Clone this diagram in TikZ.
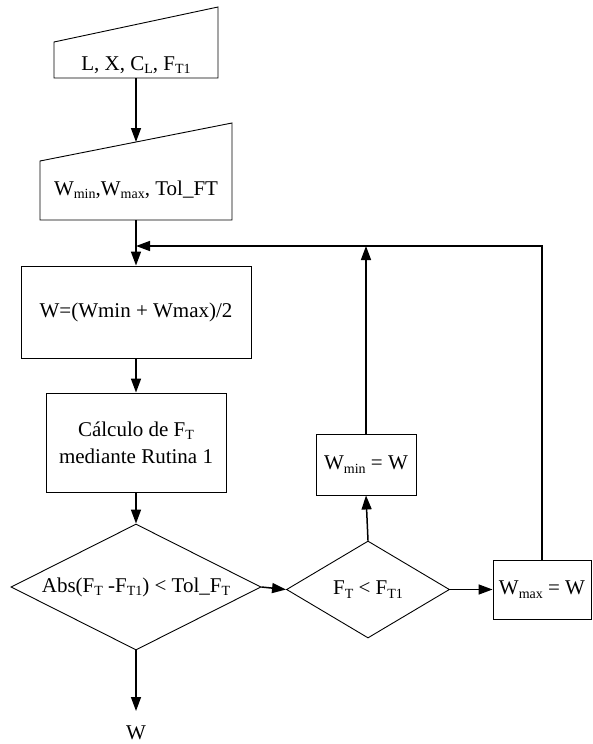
\documentclass[tikz,border=0pt]{standalone}
\usepackage{fontspec}
\setmainfont{Liberation Serif}
\usetikzlibrary{arrows.meta,shapes.geometric}
\newcommand{\sbs}[1]{\raisebox{-0.35ex}{\fontsize{14}{14}\selectfont #1}}
\begin{document}
\begin{tikzpicture}[x=1pt,y=-1pt,
  font=\fontsize{21}{27}\selectfont,
  shp/.style={draw, line width=0.9pt},
  box/.style={shp, rectangle, inner sep=0pt, align=center},
  dia/.style={shp, diamond, inner sep=0pt},
  txt/.style={inner sep=0pt, align=center},
  arr/.style={line width=1.5pt, -{Triangle[length=14pt,width=10pt]}},
  ln/.style={line width=1.5pt}]
\useasboundingbox (0,0) rectangle (592,744);

% manual input shapes
\draw[shp] (54,78) -- (218,78) -- (218,7) -- (54,42) -- cycle;
\node[txt] (t1) at (136,65) {L, X, C\sbs{L}, F\sbs{T1}};
\coordinate (t1b) at (136,78);

\draw[shp] (40,220) -- (232,220) -- (232,123) -- (40,161) -- cycle;
\node[txt] (t2) at (136,190) {W\sbs{min},W\sbs{max}, Tol\_FT};
\coordinate (t2t) at (136,142);
\coordinate (t2b) at (136,220);

% process boxes
\node[box, minimum width=230pt, minimum height=92pt] (b3) at (136,312) {W=(Wmin + Wmax)/2};
\node[box, minimum width=180pt, minimum height=99pt] (b4) at (136,442.5) {Cálculo de F\sbs{T}\\mediante Rutina 1};

% decisions
\node[dia, minimum width=250pt, minimum height=126pt, aspect=1.98] (d1) at (136,587) {Abs(F\sbs{T} -F\sbs{T1}) < Tol\_F\sbs{T}};
\node[dia, minimum width=163pt, minimum height=97pt, aspect=1.68] (d2) at (368,589.5) {F\sbs{T} < F\sbs{T1}};

% updates
\node[box, minimum width=100pt, minimum height=61pt] (wmin) at (366,464.5) {W\sbs{min} = W};
\node[box, minimum width=98pt, minimum height=59pt] (wmax) at (542,589.5) {W\sbs{max} = W};

% output
\coordinate (wend) at (136,711);
\node[txt] (wout) at (136,733) {W};
\coordinate (join) at (136,246);

% connectors
\draw[arr] (t1b) -- (t2t);
\draw[arr] (t2b) -- (b3.north);
\draw[arr] (b3.south) -- (b4.north);
\draw[arr] (b4.south) -- (d1.north);
\draw[arr] (d1.south) -- (wend);
\draw[arr] (d1.east) -- (d2.west);
\draw[arr] (d2.east) -- (wmax.west);
\draw[arr] (d2.north) -- (wmin.south);
\draw[arr] (wmin.north) -- (wmin.north |- join);
\draw[arr] (wmax.north) |- (join);
\end{tikzpicture}
\end{document}
